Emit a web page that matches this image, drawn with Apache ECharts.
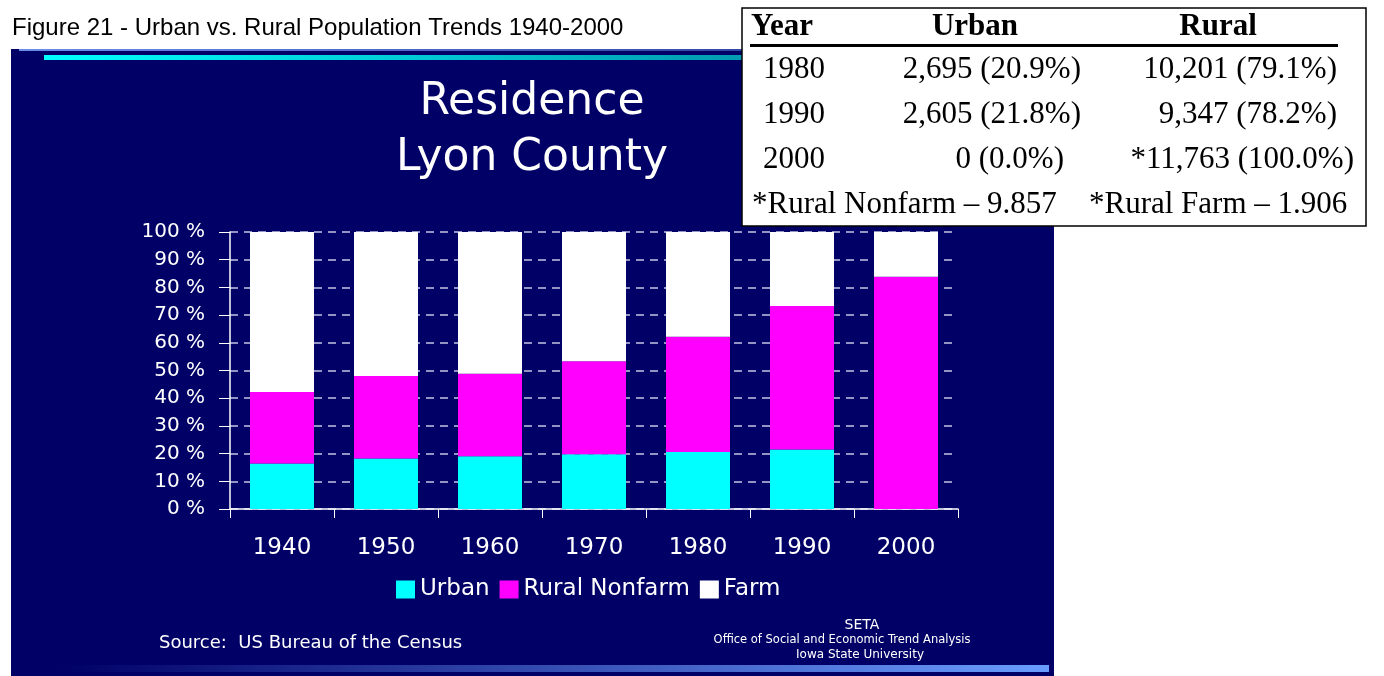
<!DOCTYPE html>
<html>
<head>
<meta charset="utf-8">
<title>Residence - Lyon County</title>
<script src="https://cdn.jsdelivr.net/npm/echarts@6.0.0/dist/echarts.min.js"></script>
<style>
  html, body { margin: 0; padding: 0; background: #fff; }
  #chart { width: 1384px; height: 676px; }
</style>
</head>
<body>
<div id="chart"></div>
<script>
// share of residents per census year (percent)
const years = ['1940', '1950', '1960', '1970', '1980', '1990', '2000'];
const urban = [16.4, 18.2, 19.0, 19.8, 20.6, 21.5, 0];
const ruralNonfarm = [25.8, 29.8, 29.8, 33.5, 41.6, 51.8, 83.8];
const farm = [57.8, 52.0, 51.2, 46.7, 37.8, 26.7, 16.2];

// the inset table in the top right corner
const tableHeader = ['Year', 'Urban', 'Rural'];
const tableYears = ['1980', '1990', '2000'];
const tableUrban = ['2,695 (20.9%)', '2,605 (21.8%)', '0 (0.0%)'];
const tableRural = ['10,201 (79.1%)', '9,347 (78.2%)', '*11,763 (100.0%)'];
const tableNotes = ['*Rural Nonfarm \u2013 9.857', '*Rural Farm \u2013 1.906'];

const sans = "'DejaVu Sans', Verdana, sans-serif";
const serif = "'Liberation Serif', 'Times New Roman', serif";
const cellFont = '31px ' + serif;
const headFont = 'bold 31px ' + serif;

const chart = echarts.init(document.getElementById('chart'));

// table texts, built from the arrays above
const tableItems = [
  { type: 'rect', z: 100, shape: { x: 742, y: 8, width: 624, height: 218 },
    style: { fill: '#fff', stroke: '#000', lineWidth: 1.5 } },
  { type: 'rect', z: 101, shape: { x: 750, y: 44, width: 588, height: 3 }, style: { fill: '#000' } },
  { type: 'text', z: 101, style: { x: 751, y: 42, text: tableHeader[0], font: headFont, fill: '#000', textVerticalAlign: 'bottom' } },
  { type: 'text', z: 101, style: { x: 975, y: 42, text: tableHeader[1], font: headFont, fill: '#000', textAlign: 'center', textVerticalAlign: 'bottom' } },
  { type: 'text', z: 101, style: { x: 1218, y: 42, text: tableHeader[2], font: headFont, fill: '#000', textAlign: 'center', textVerticalAlign: 'bottom' } }
];
tableYears.forEach((y, i) => {
  const cy = 70 + i * 45;
  const shift = i === 2 ? 17 : 0;
  tableItems.push(
    { type: 'text', z: 101, style: { x: 763, y: cy, text: y, font: cellFont, fill: '#000', textVerticalAlign: 'middle' } },
    { type: 'text', z: 101, style: { x: 1081 - shift, y: cy, text: tableUrban[i], font: cellFont, fill: '#000', textAlign: 'right', textVerticalAlign: 'middle' } },
    { type: 'text', z: 101, style: { x: 1337 + shift, y: cy, text: tableRural[i], font: cellFont, fill: '#000', textAlign: 'right', textVerticalAlign: 'middle' } }
  );
});
tableItems.push(
  { type: 'text', z: 101, style: { x: 752, y: 205, text: tableNotes[0], font: cellFont, fill: '#000', textVerticalAlign: 'middle' } },
  { type: 'text', z: 101, style: { x: 1089, y: 205, text: tableNotes[1], font: cellFont, fill: '#000', textVerticalAlign: 'middle' } }
);

const option = {
  backgroundColor: '#ffffff',
  animation: false,
  title: {
    text: 'Residence\nLyon County',
    left: 527,
    top: 70,
    textAlign: 'center',
    textStyle: { color: '#ffffff', fontFamily: sans, fontSize: 44, fontWeight: 'normal', lineHeight: 56 }
  },
  legend: {
    left: 391,
    top: 573,
    icon: 'rect',
    itemWidth: 19,
    itemHeight: 18,
    itemGap: 10,
    textStyle: { color: '#ffffff', fontFamily: sans, fontSize: 23 },
    data: ['Urban', 'Rural Nonfarm', 'Farm']
  },
  grid: { left: 230, right: 426, top: 232, bottom: 167, containLabel: false },
  xAxis: {
    type: 'category',
    data: years,
    axisLine: { lineStyle: { color: '#ffffff', width: 1.5 } },
    axisTick: { show: true, length: 9, lineStyle: { color: '#ffffff' } },
    axisLabel: { color: '#ffffff', fontFamily: sans, fontSize: 23, margin: 28 }
  },
  yAxis: {
    type: 'value',
    min: 0,
    max: 100,
    interval: 10,
    axisLine: { show: true, lineStyle: { color: '#ffffff', width: 1.5 } },
    axisTick: { show: true, length: 11, lineStyle: { color: '#ffffff' } },
    axisLabel: { color: '#ffffff', fontFamily: sans, fontSize: 20, margin: 25, formatter: '{value} %' },
    splitLine: { show: true, lineStyle: { color: '#c4c4e4', width: 1.5, type: [8, 6] } }
  },
  series: [
    { name: 'Urban', type: 'bar', stack: 'total', barWidth: 64, data: urban, itemStyle: { color: '#00ffff' } },
    { name: 'Rural Nonfarm', type: 'bar', stack: 'total', barWidth: 64, data: ruralNonfarm, itemStyle: { color: '#ff00ff' } },
    { name: 'Farm', type: 'bar', stack: 'total', barWidth: 64, data: farm, itemStyle: { color: '#ffffff' } }
  ],
  graphic: [
    // navy slide background
    { type: 'rect', z: -10, silent: true, shape: { x: 11, y: 49, width: 1043, height: 627 }, style: { fill: '#000066' } },
    { type: 'rect', z: -9, silent: true, shape: { x: 19, y: 49, width: 1030, height: 2 },
      style: { fill: new echarts.graphic.LinearGradient(0, 0, 1, 0, [{ offset: 0, color: '#6a8ee8' }, { offset: 1, color: '#1a2a88' }]) } },
    { type: 'rect', z: -9, silent: true, shape: { x: 44, y: 55, width: 1000, height: 5 },
      style: { fill: new echarts.graphic.LinearGradient(0, 0, 1, 0, [{ offset: 0, color: '#00ffff' }, { offset: 1, color: '#006f90' }]) } },
    { type: 'rect', z: -9, silent: true, shape: { x: 58, y: 665, width: 991, height: 7 },
      style: { fill: new echarts.graphic.LinearGradient(0, 0, 1, 0, [{ offset: 0, color: '#000066' }, { offset: 1, color: '#6a9cff' }]) } },
    // caption above the slide
    { type: 'text', z: 5, style: { x: 12, y: 28, text: 'Figure 21 - Urban vs. Rural Population Trends 1940-2000', font: "24px 'Liberation Sans', Arial, sans-serif", fill: '#000', textVerticalAlign: 'middle' } },
    // footer texts on the slide
    { type: 'text', z: 5, style: { x: 159, y: 643, text: 'Source:  US Bureau of the Census', font: '18px ' + sans, fill: '#ffffff', textVerticalAlign: 'middle' } },
    { type: 'text', z: 5, style: { x: 862, y: 625, text: 'SETA', font: '14px ' + sans, fill: '#ffffff', textAlign: 'center', textVerticalAlign: 'middle' } },
    { type: 'text', z: 5, style: { x: 842, y: 640, text: 'Office of Social and Economic Trend Analysis', font: '11.5px ' + sans, fill: '#ffffff', textAlign: 'center', textVerticalAlign: 'middle' } },
    { type: 'text', z: 5, style: { x: 860, y: 655, text: 'Iowa State University', font: '12px ' + sans, fill: '#ffffff', textAlign: 'center', textVerticalAlign: 'middle' } }
  ].concat(tableItems)
};

chart.setOption(option);
</script>
</body>
</html>
